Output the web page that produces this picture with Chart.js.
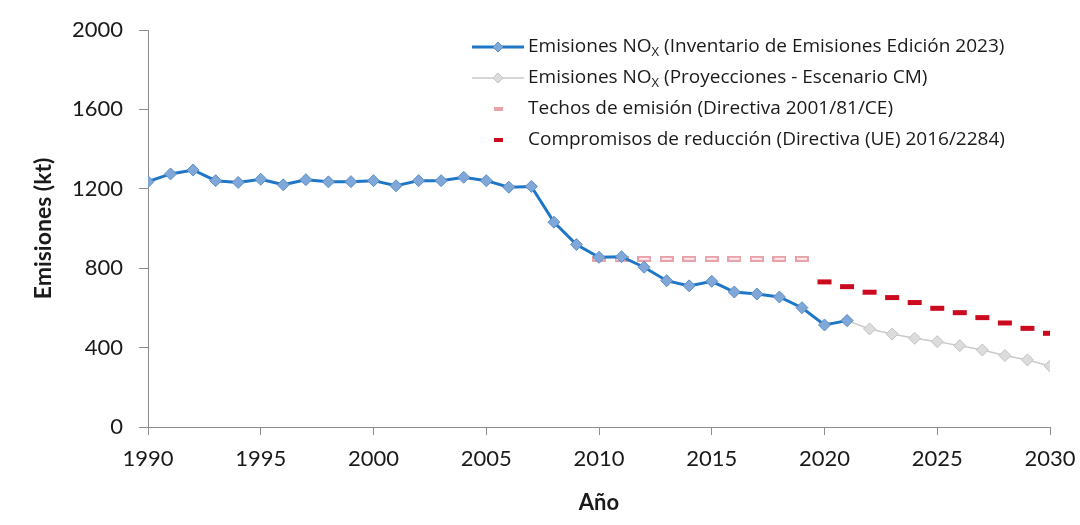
<!DOCTYPE html>
<html>
<head>
<meta charset="utf-8">
<script src="https://cdn.jsdelivr.net/npm/chart.js@4.4.1/dist/chart.umd.min.js"></script>
<style>
  html, body { margin: 0; background: #fff; }
</style>
</head>
<body>
<canvas id="grafico" width="1080" height="525"></canvas>
<script>
// Inventario histórico de NOx (kt)
const anios = [1990, 1991, 1992, 1993, 1994, 1995, 1996, 1997, 1998, 1999,
  2000, 2001, 2002, 2003, 2004, 2005, 2006, 2007, 2008, 2009,
  2010, 2011, 2012, 2013, 2014, 2015, 2016, 2017, 2018, 2019, 2020, 2021];
const inventario = [1236, 1275, 1295, 1241, 1232, 1248, 1220, 1246, 1235, 1236,
  1241, 1215, 1241, 1241, 1258, 1241, 1208, 1212, 1032, 919,
  855, 858, 805, 737, 711, 734, 680, 670, 655, 601, 514, 536];

// Proyecciones, escenario CM
const aniosProy = [2021, 2022, 2023, 2024, 2025, 2026, 2027, 2028, 2029, 2030];
const proyecciones = [536, 494, 469, 447, 430, 410, 388, 360, 338, 307];

// Techo nacional de emisión (Directiva 2001/81/CE)
const aniosTecho = [2010, 2011, 2012, 2013, 2014, 2015, 2016, 2017, 2018, 2019];
const techos = [847, 847, 847, 847, 847, 847, 847, 847, 847, 847];

// Compromisos de reducción (Directiva (UE) 2016/2284)
const aniosComp = [2020, 2021, 2022, 2023, 2024, 2025, 2026, 2027, 2028, 2029, 2030];
const compromisos = [731, 707, 679, 652, 627, 598, 576, 551, 524, 497, 472];

const ticksY = [0, 400, 800, 1200, 1600, 2000];
const ticksX = [1990, 1995, 2000, 2005, 2010, 2015, 2020, 2025, 2030];

const fuente = "Lato, 'Open Sans', sans-serif";
const fuenteLeyenda = "'Open Sans', Lato, sans-serif";
const gris = '#8c8c8c';
const rojo = '#cc0a1f';
const rosa = '#e9a2aa';

const pares = (xs, ys) => xs.map((x, i) => ({ x: x, y: ys[i] }));

// guion rosa hueco para el techo de emisión
const guionRosa = document.createElement('canvas');
guionRosa.width = 14; guionRosa.height = 6;
(function () {
  const g = guionRosa.getContext('2d');
  g.fillStyle = rosa;
  g.fillRect(0, 0, 14, 6);
  g.fillStyle = '#fcecee';
  g.fillRect(2, 2, 10, 2);
})();

// leyenda dentro del área del gráfico, con el subíndice de NOX
const leyenda = {
  id: 'leyendaInterna',
  afterDraw(chart) {
    const ctx = chart.ctx;
    const x0 = 472, y0 = 47, paso = 31;
    ctx.save();
    chart.data.datasets.forEach((ds, i) => {
      const y = y0 + i * paso;
      const cx = x0 + 26;
      if (ds.showLine !== false) {
        ctx.strokeStyle = ds.borderColor;
        ctx.lineWidth = ds.borderWidth;
        ctx.beginPath();
        ctx.moveTo(x0, y);
        ctx.lineTo(x0 + 52, y);
        ctx.stroke();
        ctx.fillStyle = ds.pointBackgroundColor;
        ctx.strokeStyle = ds.pointBorderColor;
        ctx.lineWidth = 1;
        Chart.helpers.drawPoint(ctx, { pointStyle: 'rectRot', radius: 5, rotation: 0, borderWidth: 1 }, cx, y);
      } else {
        ctx.fillStyle = ds.legendColor;
        ctx.fillRect(cx - 4, y - 2, 9, 4);
      }
      ctx.fillStyle = '#1a1a1a';
      ctx.textBaseline = 'middle';
      ctx.font = '19px ' + fuenteLeyenda;
      let x = x0 + 56;
      const partes = ds.label.split('NOX');
      if (partes.length > 1) {
        ctx.fillText(partes[0] + 'NO', x, y);
        x += ctx.measureText(partes[0] + 'NO').width;
        ctx.font = '13px ' + fuenteLeyenda;
        ctx.fillText('X', x, y + 5);
        x += ctx.measureText('X').width;
        ctx.font = '19px ' + fuenteLeyenda;
        ctx.fillText(partes[1], x, y);
      } else {
        ctx.fillText(ds.label, x, y);
      }
    });
    ctx.restore();
  }
};

new Chart(document.getElementById('grafico'), {
  type: 'line',
  data: {
    datasets: [
      {
        label: 'Emisiones NOX (Inventario de Emisiones Edición 2023)',
        data: pares(anios, inventario),
        borderColor: '#1f76c6',
        borderWidth: 3,
        pointStyle: 'rectRot',
        pointRadius: 6,
        pointBackgroundColor: '#7fa8d8',
        pointBorderColor: '#5f8fc6',
        pointBorderWidth: 1,
        tension: 0,
        order: 1
      },
      {
        label: 'Emisiones NOX (Proyecciones - Escenario CM)',
        data: pares(aniosProy, proyecciones),
        borderColor: '#c9c9c9',
        borderWidth: 1.5,
        pointStyle: 'rectRot',
        pointRadius: 6,
        pointBackgroundColor: '#dcdcdc',
        pointBorderColor: '#c2c2c2',
        pointBorderWidth: 1,
        tension: 0,
        order: 2
      },
      {
        label: 'Techos de emisión (Directiva 2001/81/CE)',
        data: pares(aniosTecho, techos),
        showLine: false,
        pointStyle: guionRosa,
        legendColor: rosa,
        order: 4
      },
      {
        label: 'Compromisos de reducción (Directiva (UE) 2016/2284)',
        data: pares(aniosComp, compromisos),
        showLine: false,
        pointStyle: 'line',
        pointRadius: 7,
        pointBorderWidth: 5,
        pointBorderColor: rojo,
        legendColor: rojo,
        order: 3
      }
    ]
  },
  options: {
    responsive: false,
    animation: false,
    layout: { padding: { top: 30, right: 30, left: 0, bottom: 0 } },
    plugins: {
      legend: { display: false },
      tooltip: { enabled: false }
    },
    scales: {
      x: {
        type: 'linear',
        min: 1990,
        max: 2030,
        afterBuildTicks: (s) => { s.ticks = ticksX.map(v => ({ value: v })); },
        afterFit: (s) => { s.height = 98; s.paddingLeft = 0; s.paddingRight = 0; },
        grid: { drawOnChartArea: false, tickLength: 8, tickColor: gris },
        border: { color: gris, width: 1 },
        ticks: { color: '#1a1a1a', font: { family: fuente, size: 22 }, padding: 11, maxRotation: 0, callback: v => String(v) },
        title: { display: true, text: 'Año', color: '#1a1a1a', font: { family: fuente, size: 22, weight: 'bold' }, padding: { top: 0, bottom: 9 } }
      },
      y: {
        min: 0,
        max: 2000,
        afterBuildTicks: (s) => { s.ticks = ticksY.map(v => ({ value: v })); },
        afterFit: (s) => { s.width = 148; },
        grid: { drawOnChartArea: false, tickLength: 9, tickColor: gris },
        border: { color: gris, width: 1 },
        ticks: { color: '#1a1a1a', font: { family: fuente, size: 22 }, padding: 16, callback: v => String(v) },
        title: { display: true, text: 'Emisiones (kt)', color: '#1a1a1a', font: { family: fuente, size: 23, weight: 'bold' }, padding: { top: 30, bottom: 0 } }
      }
    }
  },
  plugins: [leyenda]
});
</script>
</body>
</html>
